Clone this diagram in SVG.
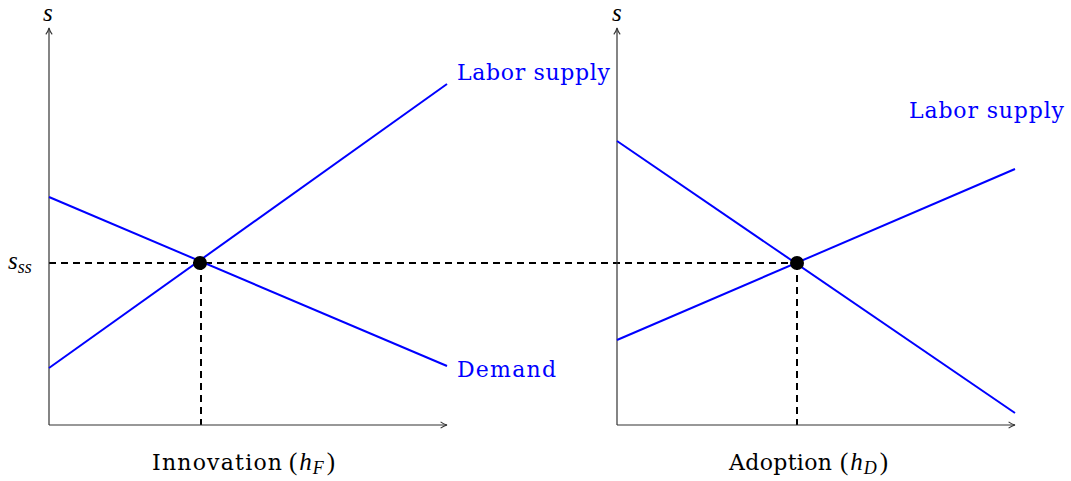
<svg xmlns="http://www.w3.org/2000/svg" width="1071" height="481" viewBox="0 0 1071 481">
<style>
.axis{stroke:#333;stroke-width:1.2;fill:none}
.blue{stroke:#0000ff;stroke-width:2;fill:none}
.dash{stroke:#000;stroke-width:2;stroke-dasharray:7 5;fill:none}
.lbl{font-family:"DejaVu Serif","Liberation Serif",serif;font-size:22px;fill:#0000ff}
.txt{font-family:"DejaVu Serif","Liberation Serif",serif;font-size:22px;fill:#000}
.math{font-family:"Liberation Serif","DejaVu Serif",serif;font-style:italic;font-size:25px;fill:#000}
.up{font-style:normal}
</style>
<defs>
<marker id="ah" viewBox="0 0 10 10" refX="9" refY="5" markerWidth="8" markerHeight="8" markerUnits="userSpaceOnUse" orient="auto">
<path d="M1,1 Q5,4 9,5 Q5,6 1,9" fill="none" stroke="#333" stroke-width="1.3"/>
</marker>
</defs>
<g id="connectors">
<line class="dash" x1="49" y1="263" x2="797" y2="263"/>
<line class="dash" x1="201" y1="263" x2="201" y2="425"/>
<line class="dash" x1="797" y1="263" x2="797" y2="425"/>
</g>
<g id="axes-left">
<line class="axis" x1="49" y1="425" x2="49" y2="28" marker-end="url(#ah)"/>
<line class="axis" x1="49" y1="425" x2="447" y2="425" marker-end="url(#ah)"/>
<text class="math" x="43" y="21" font-size="23">s</text>
<text class="math" x="8" y="269">s<tspan font-size="18" dy="4">ss</tspan></text>
<text class="txt" x="152" y="470" textLength="130">Innovation</text>
<text class="math" x="289" y="470"><tspan class="up">(</tspan><tspan dx="2">h</tspan><tspan font-size="18" dy="4" dx="1">F</tspan><tspan class="up" dy="-4" dx="3">)</tspan></text>
</g>
<g id="axes-right">
<line class="axis" x1="617" y1="425" x2="617" y2="28" marker-end="url(#ah)"/>
<line class="axis" x1="617" y1="425" x2="1015" y2="425" marker-end="url(#ah)"/>
<text class="math" x="612" y="21" font-size="23">s</text>
<text class="txt" x="729" y="470" textLength="103">Adoption</text>
<text class="math" x="840" y="470"><tspan class="up">(</tspan><tspan dx="2">h</tspan><tspan font-size="18" dy="4" dx="1">D</tspan><tspan class="up" dy="-4" dx="3">)</tspan></text>
</g>
<g id="left-supply">
<line class="blue" x1="49" y1="368" x2="447" y2="84"/>
<text class="lbl" x="457" y="80" textLength="153">Labor supply</text>
</g>
<g id="left-demand">
<line class="blue" x1="49" y1="197" x2="447" y2="366"/>
<text class="lbl" x="457" y="377" textLength="99">Demand</text>
</g>
<g id="right-supply">
<line class="blue" x1="617" y1="340" x2="1015" y2="169"/>
<text class="lbl" x="909" y="118" textLength="155">Labor supply</text>
</g>
<g id="right-demand">
<line class="blue" x1="617" y1="141" x2="1015" y2="413"/>
</g>
<g id="eq-left"><circle cx="200" cy="263" r="7" fill="#000"/></g>
<g id="eq-right"><circle cx="797" cy="263" r="7" fill="#000"/></g>
</svg>
